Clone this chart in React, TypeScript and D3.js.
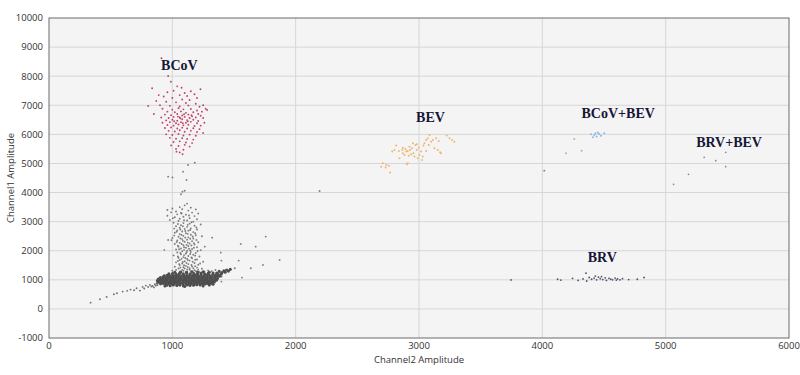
import React from 'react';
import * as d3 from 'd3';

type Pt = [number, number];

const xTicks = [0, 1000, 2000, 3000, 4000, 5000, 6000];
const yTicks = [-1000, 0, 1000, 2000, 3000, 4000, 5000, 6000, 7000, 8000, 9000, 10000];

// BCoV positive droplets (red)
const bcovPoints: Pt[] = [
  [912, 8615], [966, 8007], [988, 7811], [836, 7583], [1228, 7550], [804, 6976], [850, 6701], [1282, 6838], [1083, 5316], [1034, 5406],
  [1040, 7650], [1075, 7600], [1010, 7500], [960, 7450], [1100, 7420], [1150, 7480], [890, 7350], [930, 7300], [1060, 7350], [1120, 7320],
  [1180, 7380], [1000, 7250], [1080, 7200], [1140, 7180], [1200, 7250], [870, 7150], [950, 7120], [1030, 7100], [1110, 7080], [1190, 7050],
  [1250, 7000], [900, 7000], [980, 6980], [1060, 6960], [1130, 6990], [1220, 6950], [1270, 6880], [920, 6880], [1000, 6850], [1050, 6900],
  [1090, 6860], [1150, 6870], [1200, 6820], [1240, 6780], [960, 6780], [1020, 6760], [1070, 6790], [1110, 6740], [1170, 6760], [1210, 6700],
  [940, 6680], [990, 6660], [1040, 6700], [1080, 6650], [1130, 6680], [1160, 6620], [1230, 6640], [910, 6580], [970, 6560], [1010, 6600],
  [1060, 6580], [1100, 6600], [1140, 6560], [1190, 6580], [1250, 6560], [950, 6480], [1000, 6500], [1040, 6470], [1080, 6520], [1120, 6490],
  [1170, 6500], [1210, 6460], [920, 6400], [980, 6420], [1030, 6380], [1070, 6420], [1110, 6400], [1150, 6430], [1200, 6380], [1260, 6400],
  [960, 6320], [1010, 6300], [1050, 6340], [1090, 6310], [1130, 6330], [1180, 6290], [1230, 6300], [940, 6220], [990, 6240], [1040, 6200],
  [1080, 6230], [1120, 6200], [1170, 6210], [1220, 6180], [970, 6120], [1020, 6100], [1060, 6140], [1100, 6090], [1150, 6120], [1200, 6080],
  [1250, 6050], [950, 6000], [1000, 5980], [1050, 6010], [1090, 5960], [1140, 5990], [1190, 5950], [980, 5880], [1030, 5850], [1080, 5870],
  [1120, 5840], [1170, 5820], [1010, 5740], [1060, 5760], [1110, 5720], [1160, 5700], [990, 5620], [1050, 5600], [1100, 5640], [1140, 5580],
  [1030, 5500], [1090, 5470], [1060, 5380], [1065, 6550], [1095, 6690], [1045, 6610], [1125, 6450], [1085, 6380], [1015, 6450], [1155, 6660],
];

// BEV positive droplets (orange)
const bevPoints: Pt[] = [
  [2707, 5006], [2766, 4685], [2734, 4948], [2729, 4857], [2693, 4891], [2756, 4925], [2801, 5464], [2815, 5613], [2783, 5407],
  [2842, 5177], [2869, 5349], [2890, 5498], [2909, 5430], [2923, 5578], [2944, 5521], [2955, 5349], [2971, 5636], [2982, 5464],
  [2998, 5544], [3004, 5292], [3017, 5407], [3031, 5235], [3036, 5613], [3044, 5693], [3058, 5808], [3071, 5865], [3085, 5979],
  [3098, 5750], [3112, 5808], [3079, 5636], [3058, 5430], [3025, 5120], [2990, 5177], [2963, 5235], [2936, 5315], [2917, 5269],
  [2896, 5407], [2869, 5544], [2901, 4971], [2909, 5006], [3152, 5464], [3171, 5384], [3179, 5349], [3225, 5957], [3247, 5865],
  [3268, 5808], [3287, 5750], [3160, 5773], [3139, 5865], [3125, 5521], [2982, 5659], [2950, 5693], [2928, 5464], [2882, 5292],
  [2864, 5464], [2837, 5430],
];

// BCoV+BEV double positives (light blue)
const bcovBevPoints: Pt[] = [
  [4421, 5979], [4440, 5930], [4460, 6010], [4410, 5900], [4475, 5950], [4450, 6060], [4502, 6037], [4395, 6000], [4430, 6040],
  [4259, 5842], [4192, 5350], [4318, 5440],
];

// BRV+BEV double positives
const brvBevPoints: Pt[] = [
  [5312, 5212], [5406, 5097], [5487, 5384], [5487, 4891], [5185, 4628], [5064, 4284],
];

// BRV positive droplets
const brvPoints: Pt[] = [
  [3746, 997], [4124, 1020], [4150, 990], [4245, 1050], [4290, 980], [4354, 1227], [4380, 1080], [4400, 1020], [4420, 1060],
  [4440, 1000], [4455, 1090], [4470, 1040], [4490, 1010], [4510, 1070], [4520, 980], [4540, 1050], [4555, 1020], [4570, 1000],
  [4590, 1060], [4610, 1030], [4630, 1000], [4650, 1040], [4700, 1010], [4770, 1020], [4825, 1080], [4330, 1030], [4360, 960],
  [4430, 1130], [4480, 1110], [4600, 990],
];

// negative droplet cloud (dense)
const negativeCore: Pt[] = [
  [955, 812], [982, 798], [1008, 826], [1036, 805], [1061, 818], [1089, 796], [1117, 822], [1143, 808], [1172, 815], [1198, 830], [1226, 822],
  [905, 862], [928, 874], [951, 851], [973, 868], [996, 857], [1019, 876], [1042, 849], [1064, 866], [1087, 858], [1109, 872], [1132, 853],
  [1154, 869], [1177, 861], [1199, 874], [1222, 852], [1245, 866], [1268, 858], [1291, 870], [1312, 880],
  [884, 918], [902, 906], [921, 928], [943, 912], [962, 924], [984, 908], [1003, 930], [1026, 915], [1047, 922], [1068, 906], [1090, 927],
  [1111, 913], [1133, 925], [1152, 909], [1174, 921], [1195, 914], [1216, 929], [1238, 910], [1259, 923], [1280, 916], [1302, 928], [1323, 911], [1341, 925],
  [879, 972], [897, 961], [918, 984], [939, 966], [958, 979], [980, 962], [1001, 985], [1022, 970], [1043, 963], [1064, 981], [1086, 968],
  [1107, 986], [1128, 964], [1149, 977], [1170, 969], [1191, 983], [1213, 962], [1234, 978], [1255, 971], [1276, 985], [1297, 966], [1318, 980],
  [1339, 972], [1358, 988],
  [886, 1028], [905, 1019], [926, 1040], [947, 1024], [968, 1036], [989, 1021], [1010, 1042], [1031, 1026], [1052, 1035], [1073, 1018],
  [1094, 1039], [1115, 1027], [1136, 1044], [1157, 1022], [1178, 1037], [1199, 1025], [1220, 1041], [1241, 1020], [1262, 1034], [1283, 1029],
  [1304, 1043], [1325, 1024], [1346, 1038], [1366, 1047],
  [903, 1081], [924, 1094], [945, 1079], [966, 1098], [987, 1084], [1008, 1101], [1029, 1088], [1050, 1096], [1071, 1080], [1092, 1099],
  [1113, 1086], [1134, 1103], [1155, 1082], [1176, 1097], [1197, 1089], [1218, 1104], [1239, 1083], [1260, 1095], [1281, 1090], [1302, 1106],
  [1323, 1087], [1344, 1100], [1365, 1112], [1384, 1125],
  [934, 1142], [957, 1156], [980, 1139], [1003, 1158], [1026, 1145], [1049, 1161], [1072, 1140], [1095, 1157], [1118, 1148], [1141, 1163],
  [1164, 1144], [1187, 1159], [1210, 1147], [1233, 1162], [1256, 1141], [1279, 1155], [1302, 1150], [1326, 1166], [1350, 1160], [1372, 1178], [1395, 1190],
  [972, 1204], [1001, 1218], [1030, 1201], [1059, 1222], [1088, 1207], [1117, 1224], [1146, 1203], [1175, 1219], [1204, 1209], [1233, 1226],
  [1262, 1206], [1291, 1221], [1330, 1232], [1360, 1236], [1402, 1248], [1428, 1262],
  [1020, 1262], [1068, 1270], [1115, 1258], [1160, 1275], [1205, 1266], [1250, 1278], [1300, 1262], [1380, 1290], [1418, 1310], [1440, 1335],
  [1455, 1300], [1470, 1360], [940, 790], [1100, 770], [1250, 790], [1300, 820], [1330, 850],
];

// low-amplitude tail left of the cloud
const negativeTail: Pt[] = [
  [337, 216], [413, 333], [467, 412], [526, 505], [551, 540], [597, 595], [634, 620], [661, 663], [690, 640], [710, 711], [737, 630],
  [759, 756], [772, 700], [785, 801], [804, 756], [818, 825], [830, 770], [840, 790], [850, 740], [858, 850], [866, 800], [872, 870], [880, 820],
];

// rain droplets (gray) above and right of the cloud
const rainPoints: Pt[] = [
  [1120, 3620], [1100, 3560], [1060, 3500], [1150, 3480], [1000, 3450], [1190, 3420], [960, 3400], [1080, 3430], [1130, 3380], [1030, 3350],
  [990, 3320], [1070, 3300], [1160, 3310], [1210, 3280], [1040, 3250], [1110, 3240], [960, 3200], [1180, 3190], [1090, 3170], [1020, 3150],
  [1140, 3120], [1060, 3100], [1200, 3080], [980, 3060], [1120, 3040], [1050, 3020], [1170, 3000],
  [1010, 2960], [1090, 2950], [1140, 2930], [1230, 2900], [1070, 2880], [1180, 2860], [1030, 2840], [1120, 2820], [1060, 2790], [1150, 2770],
  [1100, 2750], [1200, 2730], [1040, 2700], [1130, 2690], [1080, 2660], [1170, 2640], [1020, 2620], [1110, 2600], [1060, 2570], [1150, 2550],
  [1190, 2530], [1090, 2510], [1240, 2500],
  [1050, 2480], [1130, 2460], [1000, 2440], [1170, 2420], [1080, 2400], [1120, 2380], [1040, 2350], [1160, 2330], [1100, 2310], [1210, 2290],
  [1060, 2270], [1140, 2250], [1020, 2230], [1180, 2210], [1090, 2190], [1130, 2160], [1050, 2140], [1200, 2120], [1110, 2100], [1070, 2080],
  [1160, 2060], [1030, 2040], [1230, 2020], [1120, 2000],
  [1080, 1980], [1150, 1960], [1040, 1940], [1190, 1920], [1110, 1900], [1070, 1880], [1170, 1860], [1010, 1840], [1130, 1820], [1220, 1800],
  [1090, 1780], [1050, 1760], [1160, 1740], [1120, 1720], [1200, 1700], [1060, 1680], [1140, 1660], [1100, 1640], [1250, 1620], [1030, 1600],
  [1180, 1580], [1080, 1560], [1130, 1540], [1210, 1520], [1060, 1500],
  [1110, 1480], [1160, 1460], [1020, 1450], [1090, 1430], [1200, 1420], [1140, 1400], [1050, 1390], [1240, 1380], [1120, 1360], [1080, 1340],
  [1180, 1330], [1290, 1320], [1000, 1310], [1150, 1300], [1060, 1280], [1220, 1270], [1110, 1260],
  [966, 2370], [993, 2360], [935, 2030],
  [1075, 3280], [1135, 3210], [1005, 3120], [1095, 3050], [1155, 2980], [1045, 2920], [1125, 2890], [1085, 2840], [1195, 2800], [1015, 2760],
  [1145, 2710], [1065, 2730], [1105, 2680], [1035, 2650], [1185, 2600], [1125, 2580], [1075, 2540], [1165, 2490], [1015, 2520], [1105, 2450],
  [1145, 2410], [1065, 2420], [1195, 2370], [1085, 2340], [1035, 2300], [1125, 2280], [1175, 2260], [1075, 2230], [1115, 2200], [1155, 2180],
  [1045, 2170], [1095, 2120], [1175, 2100], [1135, 2070], [1055, 2050], [1095, 2030], [1145, 2010], [1205, 1990], [1115, 1950], [1065, 1920],
  [1145, 1890], [1095, 1850], [1185, 1830], [1045, 1800], [1155, 1770], [1105, 1750], [1075, 1720], [1185, 1690], [1125, 1680], [1045, 1650],
  [1165, 1620], [1085, 1610], [1115, 1580], [1225, 1560], [1055, 1540], [1155, 1510], [1095, 1500], [1185, 1470], [1125, 1440], [1065, 1420],
  [1170, 1400], [1100, 1390], [1210, 1350], [1140, 1345], [1030, 1340], [1090, 1310], [1190, 1300], [1260, 1290], [1120, 1290], [1320, 1300], [1350, 1340],
  [1323, 2450], [1555, 2234], [1676, 2141], [1757, 2485], [1870, 1684], [1735, 1512], [1636, 1398], [1565, 1076], [1538, 1660], [1506, 1398],
  [1393, 1935], [1398, 1660], [1263, 2141], [1466, 1340], [1430, 1290], [1398, 938], [1400, 1110], [2194, 4055], [4016, 4753],
  [1082, 4031], [1100, 4060], [1070, 3940], [966, 4546], [1001, 4520], [1087, 4718], [1115, 4433], [1182, 5027], [1128, 4948],
];

const clusterLabels: { text: string; x: number; y: number }[] = [
  { text: 'BCoV', x: 1057, y: 8213 },
  { text: 'BEV', x: 3093, y: 6436 },
  { text: 'BCoV+BEV', x: 4615, y: 6553 },
  { text: 'BRV+BEV', x: 5514, y: 5577 },
  { text: 'BRV', x: 4486, y: 1625 },
];

const W = 800;
const H = 375;
const margin = { top: 18, right: 11, bottom: 37, left: 49 };

export default function App() {
  const x = d3.scaleLinear().domain([0, 6000]).range([margin.left, W - margin.right]);
  const y = d3.scaleLinear().domain([-1000, 10000]).range([H - margin.bottom, margin.top]);

  const tickFont = "'Open Sans', 'Noto Sans', sans-serif";

  const dots = (pts: Pt[], color: string, r: number, key: string, opacity = 1) =>
    pts.map((p, i) => (
      <circle key={key + i} cx={x(p[0])} cy={y(p[1])} r={r} fill={color} fillOpacity={opacity} />
    ));

  return (
    <div style={{ position: 'fixed', left: 0, top: 0 }}>
      <svg width={W} height={H} style={{ display: 'block', background: '#ffffff' }}>
        <rect
          x={x(0)}
          y={y(10000)}
          width={x(6000) - x(0)}
          height={y(-1000) - y(10000)}
          fill="#f4f4f4"
        />
        {/* grid */}
        {xTicks.slice(1, -1).map((t) => (
          <line key={'gx' + t} x1={x(t)} x2={x(t)} y1={y(10000)} y2={y(-1000)} stroke="#d6d6d6" strokeWidth={1} />
        ))}
        {yTicks.slice(1, -1).map((t) => (
          <line key={'gy' + t} x1={x(0)} x2={x(6000)} y1={y(t)} y2={y(t)} stroke="#d6d6d6" strokeWidth={1} />
        ))}

        {/* droplets */}
        {dots(negativeTail, '#707070', 0.95, 'tail')}
        {dots(rainPoints, '#707070', 0.95, 'rain', 0.9)}
        {dots(negativeCore, '#4d4d4d', 1.55, 'core')}
        {dots(bcovPoints, '#c4436a', 0.95, 'bcov')}
        {dots(bevPoints, '#f0b56e', 1.0, 'bev')}
        {dots(bcovBevPoints, '#8cb6e6', 1.0, 'cb')}
        {dots(brvBevPoints, '#8a8aa6', 0.9, 'rb')}
        {dots(brvPoints, '#4f5268', 0.9, 'brv')}

        {/* frame */}
        <rect
          x={x(0)}
          y={y(10000)}
          width={x(6000) - x(0)}
          height={y(-1000) - y(10000)}
          fill="none"
          stroke="#6a6a6a"
          strokeWidth={1}
        />

        {/* ticks */}
        {yTicks.map((t) => (
          <text key={'ty' + t} x={x(0) - 6} y={y(t)} dy="0.35em" textAnchor="end" fontFamily={tickFont} fontSize={9.5} fill="#333">
            {t}
          </text>
        ))}
        {xTicks.map((t) => (
          <text key={'tx' + t} x={x(t)} y={y(-1000) + 11} textAnchor="middle" fontFamily={tickFont} fontSize={9.5} fill="#333">
            {t}
          </text>
        ))}

        {/* axis titles */}
        <text x={(x(0) + x(6000)) / 2} y={363} textAnchor="middle" fontFamily={tickFont} fontSize={9.5} fill="#333">
          Channel2 Amplitude
        </text>
        <text
          transform={`translate(14, ${(y(-1000) + y(10000)) / 2}) rotate(-90)`}
          textAnchor="middle"
          fontFamily={tickFont}
          fontSize={9.5}
          fill="#333"
        >
          Channel1 Amplitude
        </text>

        {/* cluster labels */}
        {clusterLabels.map((l) => (
          <text
            key={l.text}
            x={x(l.x)}
            y={y(l.y)}
            textAnchor="middle"
            fontFamily="'Liberation Serif', 'Times New Roman', serif"
            fontWeight="bold"
            fontSize={14}
            fill="#161638"
          >
            {l.text}
          </text>
        ))}
      </svg>
    </div>
  );
}
